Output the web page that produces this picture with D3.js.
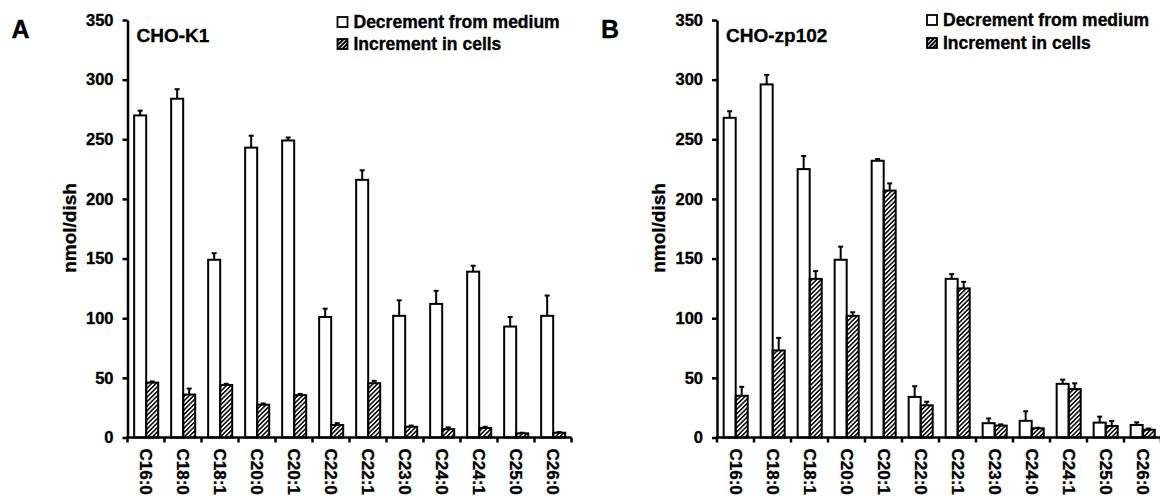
<!DOCTYPE html>
<html>
<head>
<meta charset="utf-8">
<script src="https://cdn.jsdelivr.net/npm/d3@7"></script>
<style>
  body { margin: 0; background: #fff; }
  text { font-family: "Liberation Sans", Arial, sans-serif; font-weight: bold; fill: #000;
         stroke: #000; stroke-width: 0.35px; }
</style>
</head>
<body>
<div id="chart"></div>
<script>
const categories = ["C16:0", "C18:0", "C18:1", "C20:0", "C20:1", "C22:0", "C22:1", "C23:0", "C24:0", "C24:1", "C25:0", "C26:0"];
const yTicks = [0, 50, 100, 150, 200, 250, 300, 350];
const seriesNames = ["Decrement from medium", "Increment in cells"];

// CHO-K1
const k1Decrement = [270, 284, 149, 243, 249, 101, 216, 102, 112, 139, 93, 102];
const k1DecrementErr = [4, 8, 5.5, 10, 2.5, 7, 8, 13, 11, 5, 8, 17];
const k1Increment = [46, 36, 44, 27.5, 35.5, 10.5, 45.5, 9, 7, 8, 3.5, 4];
const k1IncrementErr = [1, 5, 1, 1, 1, 1.5, 2, 1, 1.5, 1, 0.5, 0.5];

// CHO-zp102
const zpDecrement = [268, 296, 225, 149, 232, 34, 133, 12, 14, 45, 12.5, 10.5];
const zpDecrementErr = [5.5, 8, 11, 11, 1.5, 9, 4, 4, 8, 3.5, 5, 2.2];
const zpIncrement = [35, 73, 133, 102, 207, 27, 125, 10, 7.7, 40.6, 9.6, 6.5];
const zpIncrementErr = [7.5, 10.5, 6.5, 3, 6, 3, 5.5, 1, 0.5, 4.8, 4.2, 1];

const W = 1160, H = 500;
const svg = d3.select("#chart").append("svg")
    .attr("width", W)
    .attr("height", H);

// hatch patterns: one for the bars, a darker one for the legend swatch
const defs = svg.append("defs");
defs.append("pattern")
    .attr("id", "hatch")
    .attr("patternUnits", "userSpaceOnUse")
    .attr("width", 3.2)
    .attr("height", 3.2)
    .attr("patternTransform", "rotate(45)")
  .append("rect")
    .attr("x", 0).attr("y", 0)
    .attr("width", 1.5).attr("height", 3.2)
    .attr("fill", "#000");
const dark = defs.append("pattern")
    .attr("id", "hatchDark")
    .attr("patternUnits", "userSpaceOnUse")
    .attr("width", 3)
    .attr("height", 3)
    .attr("patternTransform", "rotate(45)");
dark.append("rect").attr("width", 3).attr("height", 3).attr("fill", "#000");
dark.append("rect").attr("width", 1).attr("height", 3).attr("fill", "#fff");

function drawPanel(p) {
    const y = d3.scaleLinear().domain([0, 350]).range([437.5, 20]);
    const x = d3.scaleBand().domain(categories).range([p.left, p.left + 444]);
    const sub = d3.scaleBand().domain([0, 1])
        .range([x.bandwidth() * 0.18, x.bandwidth() * 0.83]);

    const g = svg.append("g");
    const series = [
        { vals: p.dec, errs: p.decErr, fill: "#fff" },
        { vals: p.inc, errs: p.incErr, fill: "url(#hatch)" }
    ];

    series.forEach((s, si) => {
        const rows = categories.map((c, i) => ({ c, v: s.vals[i], e: s.errs[i] }));
        const cx = d => x(d.c) + sub(si) + sub.bandwidth() / 2;
        // error bars (upper only)
        g.selectAll(null).data(rows).enter().append("line")
            .attr("x1", cx).attr("x2", cx)
            .attr("y1", d => y(d.v))
            .attr("y2", d => y(d.v + d.e))
            .attr("stroke", "#000").attr("stroke-width", 2);
        g.selectAll(null).data(rows).enter().append("line")
            .attr("x1", d => cx(d) - 2.5)
            .attr("x2", d => cx(d) + 2.5)
            .attr("y1", d => y(d.v + d.e))
            .attr("y2", d => y(d.v + d.e))
            .attr("stroke", "#000").attr("stroke-width", 2);
        g.selectAll(null).data(rows).enter().append("rect")
            .attr("x", d => x(d.c) + sub(si))
            .attr("y", d => y(d.v))
            .attr("width", sub.bandwidth())
            .attr("height", d => y(0) - y(d.v))
            .attr("fill", s.fill)
            .attr("stroke", "#000")
            .attr("stroke-width", 2);
    });

    // y axis
    const yAxis = g.append("g")
        .attr("transform", `translate(${p.left},0)`)
        .call(d3.axisLeft(y).tickValues(yTicks).tickSize(5).tickSizeOuter(0).tickPadding(9));
    yAxis.select(".domain").attr("stroke-width", 2.5);
    yAxis.selectAll(".tick line").attr("stroke-width", 2.5);
    yAxis.selectAll(".tick text")
        .style("font-size", "16.5px");

    // x axis with ticks between categories
    const xg = g.append("g");
    xg.append("line")
        .attr("x1", p.left - 1).attr("x2", x.range()[1])
        .attr("y1", y(0)).attr("y2", y(0))
        .attr("stroke", "#000").attr("stroke-width", 2.5);
    const bounds = categories.map(c => x(c)).concat([x.range()[1]]);
    xg.selectAll(null).data(bounds).enter().append("line")
        .attr("x1", d => d).attr("x2", d => d)
        .attr("y1", y(0)).attr("y2", y(0) + 5)
        .attr("stroke", "#000").attr("stroke-width", 2.5);
    xg.selectAll(null).data(categories).enter().append("text")
        .attr("transform", d => `translate(${x(d) + x.bandwidth() / 2},${y(0) + 11}) rotate(90)`)
        .attr("dy", "0.35em")
        .style("font-size", "17px")
        .text(d => d);

    // y label
    g.append("text")
        .attr("transform", `translate(${p.left - 52},${228}) rotate(-90)`)
        .attr("text-anchor", "middle")
        .style("font-size", "19px")
        .text("nmol/dish");

    // panel letter and title
    g.append("text").attr("x", p.left - 116).attr("y", 38)
        .style("font-size", "25px").text(p.letter);
    g.append("text").attr("x", p.left + 9).attr("y", 42)
        .style("font-size", "19px").text(p.title);

    // legend
    const lg = g.append("g").attr("transform", `translate(${p.left + 210},0)`);
    seriesNames.forEach((name, i) => {
        const yy = p.legendY[i];
        lg.append("rect")
            .attr("x", 0).attr("y", yy - 11)
            .attr("width", 10).attr("height", 10)
            .attr("fill", i === 0 ? "#fff" : "url(#hatchDark)")
            .attr("stroke", "#000").attr("stroke-width", 1.8);
        lg.append("text")
            .attr("x", 16).attr("y", yy)
            .style("font-size", "17.5px")
            .text(name);
    });
}

drawPanel({ left: 127.5, letter: "A", title: "CHO-K1",
    dec: k1Decrement, decErr: k1DecrementErr, inc: k1Increment, incErr: k1IncrementErr,
    legendY: [28, 50] });
drawPanel({ left: 717, letter: "B", title: "CHO-zp102",
    dec: zpDecrement, decErr: zpDecrementErr, inc: zpIncrement, incErr: zpIncrementErr,
    legendY: [26, 49] });
</script>
</body>
</html>
